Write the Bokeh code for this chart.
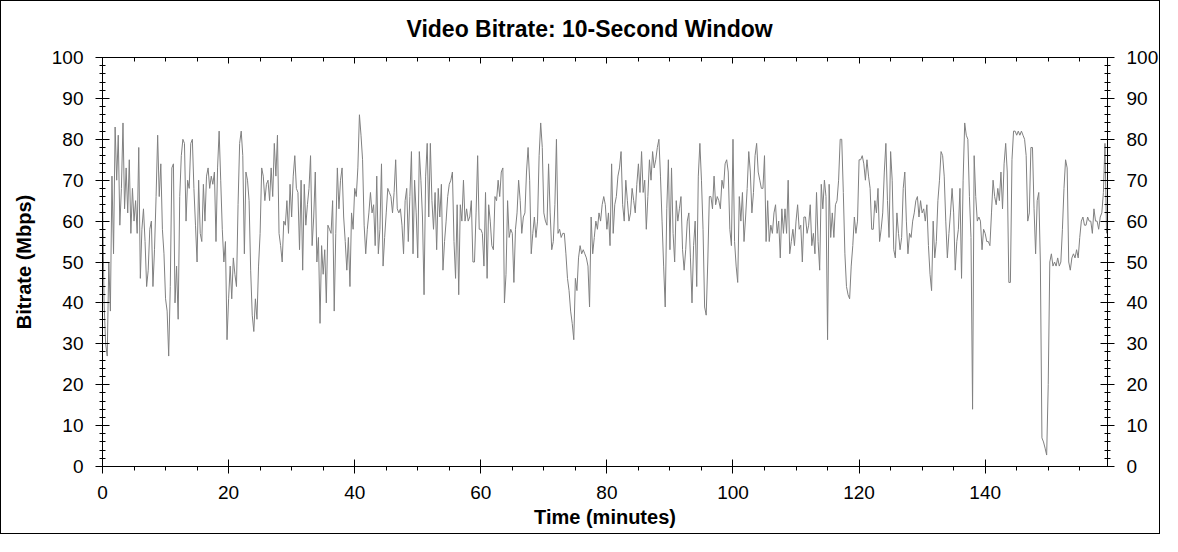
import numpy as np
from bokeh.plotting import figure
from bokeh.models import Range1d, LinearAxis, SingleIntervalTicker
from bokeh.embed import file_html
from bokeh.resources import INLINE

# video bitrate (Mbps), 4 samples per minute
step_min = 0.25
bitrate_mbps = [
    66, 40, 30, 27, 50, 38, 71, 52, 83, 70, 81, 59, 68, 84, 63, 73, 62, 75, 57, 68,
    60, 65, 57, 78, 46, 58, 63, 55, 44, 48, 58, 60, 44, 53, 66, 81, 66, 74, 58, 52,
    41, 38, 27, 44, 73, 74, 40, 49, 36, 66, 76, 80, 79, 60, 70, 68, 79, 80, 68, 59,
    50, 70, 57, 55, 69, 60, 71, 73, 68, 71, 69, 72, 55, 73, 82, 70, 58, 50, 55, 31,
    41, 49, 41, 51, 47, 44, 64, 79, 82, 76, 52, 72, 70, 65, 48, 37, 33, 41, 36, 49,
    57, 73, 71, 65, 69, 70, 65, 73, 66, 79, 71, 81, 57, 54, 50, 60, 59, 65, 57, 69,
    61, 71, 76, 68, 67, 53, 70, 48, 69, 59, 64, 68, 76, 54, 61, 72, 50, 56, 35, 54,
    47, 53, 40, 59, 58, 57, 65, 38, 57, 73, 63, 70, 73, 61, 55, 48, 56, 44, 62, 58,
    68, 66, 73, 86, 81, 75, 59, 52, 58, 62, 67, 62, 64, 54, 71, 52, 58, 74, 49, 56,
    62, 68, 67, 66, 62, 67, 75, 63, 62, 63, 59, 52, 65, 68, 55, 66, 77, 52, 70, 62,
    51, 77, 70, 61, 42, 71, 79, 61, 79, 65, 58, 67, 53, 68, 61, 69, 48, 55, 60, 66,
    69, 70, 72, 55, 46, 64, 42, 64, 60, 70, 60, 63, 60, 61, 65, 50, 50, 62, 76, 58,
    58, 57, 49, 67, 46, 64, 60, 54, 53, 66, 65, 70, 66, 72, 73, 40, 47, 65, 56, 58,
    57, 45, 58, 62, 70, 65, 57, 61, 62, 72, 78, 70, 52, 57, 61, 56, 60, 76, 84, 78,
    62, 60, 59, 74, 62, 53, 55, 64, 80, 57, 58, 56, 57, 57, 52, 46, 43, 38, 35, 31,
    46, 43, 51, 54, 52, 53, 52, 51, 49, 39, 61, 52, 56, 60, 58, 62, 60, 64, 66, 64,
    58, 62, 54, 74, 57, 64, 66, 71, 73, 77, 64, 60, 70, 65, 60, 62, 68, 65, 62, 69,
    74, 67, 77, 67, 70, 58, 66, 75, 70, 77, 73, 75, 78, 80, 71, 60, 49, 39, 63, 75,
    53, 73, 57, 50, 65, 60, 63, 66, 53, 48, 53, 60, 62, 51, 40, 54, 60, 44, 71, 79,
    70, 58, 39, 37, 50, 66, 66, 63, 71, 64, 66, 65, 63, 70, 68, 74, 75, 72, 58, 54,
    80, 55, 49, 45, 66, 60, 67, 55, 61, 68, 77, 72, 62, 67, 76, 79, 72, 70, 68, 68,
    76, 55, 65, 55, 59, 57, 62, 64, 57, 60, 51, 63, 57, 63, 57, 70, 52, 55, 58, 54,
    60, 64, 58, 59, 50, 61, 61, 57, 59, 64, 54, 57, 52, 67, 55, 48, 69, 63, 70, 66,
    31, 69, 56, 62, 56, 64, 65, 70, 80, 80, 67, 52, 44, 42, 41, 49, 54, 61, 57, 60,
    75, 75, 76, 74, 70, 75, 71, 68, 58, 58, 65, 62, 68, 55, 58, 62, 72, 79, 65, 56,
    77, 70, 53, 51, 62, 57, 53, 56, 68, 72, 60, 52, 57, 56, 60, 62, 65, 66, 61, 65,
    62, 63, 60, 64, 54, 47, 43, 60, 51, 55, 65, 70, 77, 76, 71, 60, 51, 57, 62, 68,
    62, 48, 55, 58, 68, 46, 70, 84, 81, 80, 66, 56, 14, 76, 66, 60, 61, 60, 53, 58,
    57, 55, 55, 54, 62, 70, 66, 64, 68, 65, 72, 63, 74, 79, 72, 45, 45, 75, 82, 82,
    81, 82, 81, 82, 81, 80, 76, 60, 62, 78, 78, 63, 52, 65, 67, 50, 7, 6, 4.5, 2.8,
    20, 50, 52, 49, 50, 49, 51, 49, 50, 58, 68, 75, 73, 50, 48, 51, 52, 51, 53, 51,
    56, 60, 61, 59, 59, 61, 60, 60, 57, 63, 60, 60, 58, 61, 62, 67, 79, 57,
]
minutes = np.arange(len(bitrate_mbps)) * step_min

x_end = 159.4
y_end = 100
x_ticks = 20
y_ticks = 10

font = "Liberation Sans"

p = figure(width=1160, height=534, output_backend="svg", toolbar_location=None,
           x_range=Range1d(0, x_end), y_range=Range1d(0, y_end),
           min_border_left=101, min_border_right=52, min_border_top=56, min_border_bottom=69,
           title="Video Bitrate: 10-Second Window",
           styles={"border": "1px solid black"})
p.grid.visible = False
p.outline_line_color = None
p.background_fill_color = "white"
p.border_fill_color = "white"

p.line(minutes, bitrate_mbps, line_color="#808080", line_width=1)

xt = SingleIntervalTicker(interval=x_ticks, num_minor_ticks=4)
yt = SingleIntervalTicker(interval=y_ticks, num_minor_ticks=5)

bottom = p.below[0]
left = p.left[0]
bottom.ticker = xt
left.ticker = yt
bottom.axis_label = "Time (minutes)"
left.axis_label = "Bitrate (Mbps)"

right = LinearAxis(ticker=yt)
top = LinearAxis(ticker=xt)
p.add_layout(right, "right")
p.add_layout(top, "above")

for ax in [bottom, left, right, top]:
    ax.axis_line_color = "black"
    ax.major_tick_line_color = "black"
    ax.minor_tick_line_color = "black"
    ax.major_label_text_font = font
    ax.major_label_text_font_size = "19px"
    ax.major_label_text_color = "black"
    ax.axis_label_text_font = font
    ax.axis_label_text_font_style = "bold"
    ax.axis_label_text_font_size = "20px"
    ax.axis_label_text_color = "black"
    ax.major_label_standoff = 12
    ax.major_tick_in = 7
    ax.major_tick_out = 7
    ax.minor_tick_in = 3
    ax.minor_tick_out = 3

bottom.minor_tick_in = 0
bottom.minor_tick_out = 4
bottom.axis_label_standoff = 4
left.axis_label_standoff = 14
# top axis: ticks only, no labels
top.major_label_overrides = {t: "" for t in range(0, 160, x_ticks)}
top.major_label_standoff = 0
top.major_tick_in = 6
top.major_tick_out = 0
top.minor_tick_in = 4
top.minor_tick_out = 0

p.title.align = "left"
p.title.offset = 304
p.title.vertical_align = "top"
p.title.text_font = font
p.title.text_font_style = "bold"
p.title.text_font_size = "23px"
p.title.text_color = "black"
p.title.standoff = 28

open("out.html", "w").write(file_html(p, INLINE))
